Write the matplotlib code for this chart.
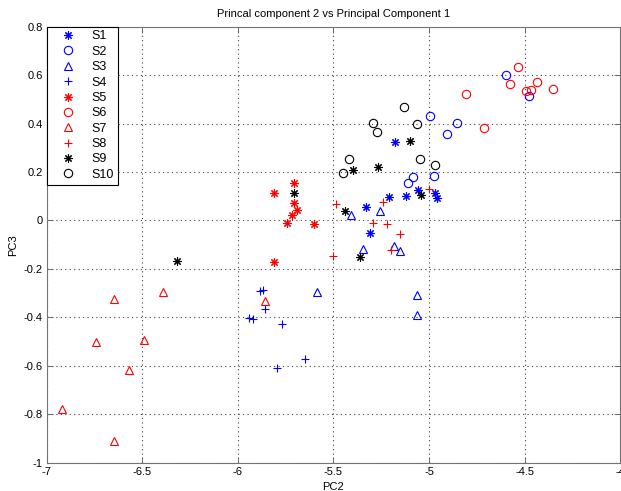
import matplotlib
matplotlib.use('Agg')
import matplotlib.pyplot as plt
from matplotlib.ticker import FuncFormatter

# PC2 / PC3 scores for every sample group
s1_x = [-5.178, -5.308, -5.329, -5.209, -5.120, -5.058, -4.969, -4.958]
s1_y = [0.323, -0.051, 0.056, 0.097, 0.101, 0.126, 0.113, 0.093]

s2_x = [-4.598, -4.478, -4.854, -4.995, -4.906, -5.084, -5.110, -4.974]
s2_y = [0.599, 0.512, 0.401, 0.430, 0.356, 0.179, 0.154, 0.183]

s3_x = [-5.408, -5.256, -5.348, -5.186, -5.152, -5.587, -5.064, -5.061]
s3_y = [0.023, 0.040, -0.117, -0.104, -0.124, -0.296, -0.307, -0.389]

s4_x = [-5.883, -5.869, -5.857, -5.944, -5.923, -5.770, -5.648, -5.796]
s4_y = [-0.293, -0.289, -0.364, -0.402, -0.407, -0.426, -0.571, -0.608]

s5_x = [-5.704, -5.813, -5.709, -5.691, -5.717, -5.743, -5.601, -5.813]
s5_y = [0.156, 0.112, 0.071, 0.043, 0.023, -0.009, -0.016, -0.172]

s6_x = [-4.537, -4.577, -4.437, -4.493, -4.467, -4.354, -4.808, -4.711]
s6_y = [0.633, 0.565, 0.571, 0.534, 0.540, 0.544, 0.521, 0.382]

s7_x = [-6.646, -6.393, -6.740, -6.493, -6.567, -6.919, -6.646, -5.860]
s7_y = [-0.324, -0.297, -0.503, -0.492, -0.618, -0.777, -0.910, -0.334]

s8_x = [-5.486, -5.242, -5.296, -5.221, -5.152, -5.199, -5.000, -5.503]
s8_y = [0.068, 0.077, -0.012, -0.014, -0.056, -0.121, 0.130, -0.147]

s9_x = [-5.102, -5.399, -5.265, -5.042, -5.709, -5.439, -5.360, -6.316]
s9_y = [0.328, 0.208, 0.219, 0.105, 0.114, 0.040, -0.149, -0.167]

s10_x = [-5.129, -5.294, -5.064, -5.270, -5.418, -5.047, -5.448, -4.969]
s10_y = [0.468, 0.403, 0.397, 0.366, 0.252, 0.252, 0.194, 0.227]

labels = ['S1', 'S2', 'S3', 'S4', 'S5', 'S6', 'S7', 'S8', 'S9', 'S10']
xs = [s1_x, s2_x, s3_x, s4_x, s5_x, s6_x, s7_x, s8_x, s9_x, s10_x]
ys = [s1_y, s2_y, s3_y, s4_y, s5_y, s6_y, s7_y, s8_y, s9_y, s10_y]

# matlab-ish styles: asterisk = plus + cross
star = (8, 2, 0)
styles = [('b', star), ('b', 'o'), ('b', '^'), ('b', '+'),
          ('r', star), ('r', 'o'), ('r', '^'), ('r', '+'),
          ('k', star), ('k', 'o')]

plt.rcParams['font.family'] = ['Liberation Sans', 'DejaVu Sans']

fig = plt.figure(figsize=(6.21, 4.91), dpi=100)
ax = fig.add_axes([46.7 / 621, 1 - 462.7 / 491, (620.3 - 46.7) / 621, (462.7 - 26.7) / 491])

for x, y, lab, (c, m) in zip(xs, ys, labels, styles):
    ax.plot(x, y, linestyle='None', marker=m, markersize=6,
            markerfacecolor='none', markeredgecolor=c, markeredgewidth=0.8,
            label=lab)

ax.set_xlim(-7, -4)
ax.set_ylim(-1, 0.8)
ax.set_xticks([-7, -6.5, -6, -5.5, -5, -4.5, -4])
ax.set_yticks([-1, -0.8, -0.6, -0.4, -0.2, 0, 0.2, 0.4, 0.6, 0.8])
ax.xaxis.set_major_formatter(FuncFormatter(lambda v, p: '%g' % v))
ax.yaxis.set_major_formatter(FuncFormatter(lambda v, p: '%g' % v))
ax.tick_params(direction='in', top=True, right=True, length=4, width=0.6,
               labelsize=8, colors='0.35', labelcolor='black', pad=3)
for s in ax.spines.values():
    s.set_color('0.45')
    s.set_linewidth(0.8)

ax.grid(True, linestyle=(0, (1, 3)), color='0.25', linewidth=0.8)

ax.set_title('Princal component 2 vs Principal Component 1', fontsize=8, pad=7)
ax.set_xlabel('PC2', fontsize=8, labelpad=4)
ax.set_ylabel('PC3', fontsize=8, labelpad=4)

leg = ax.legend(loc='upper left', bbox_to_anchor=(0, 1), borderaxespad=0,
                fontsize=9, fancybox=False, framealpha=1, edgecolor='black',
                labelspacing=0.27, handlelength=2.8, handletextpad=0.5,
                borderpad=0.3)
leg.get_frame().set_linewidth(0.8)

fig.savefig('out.png', dpi=100)
